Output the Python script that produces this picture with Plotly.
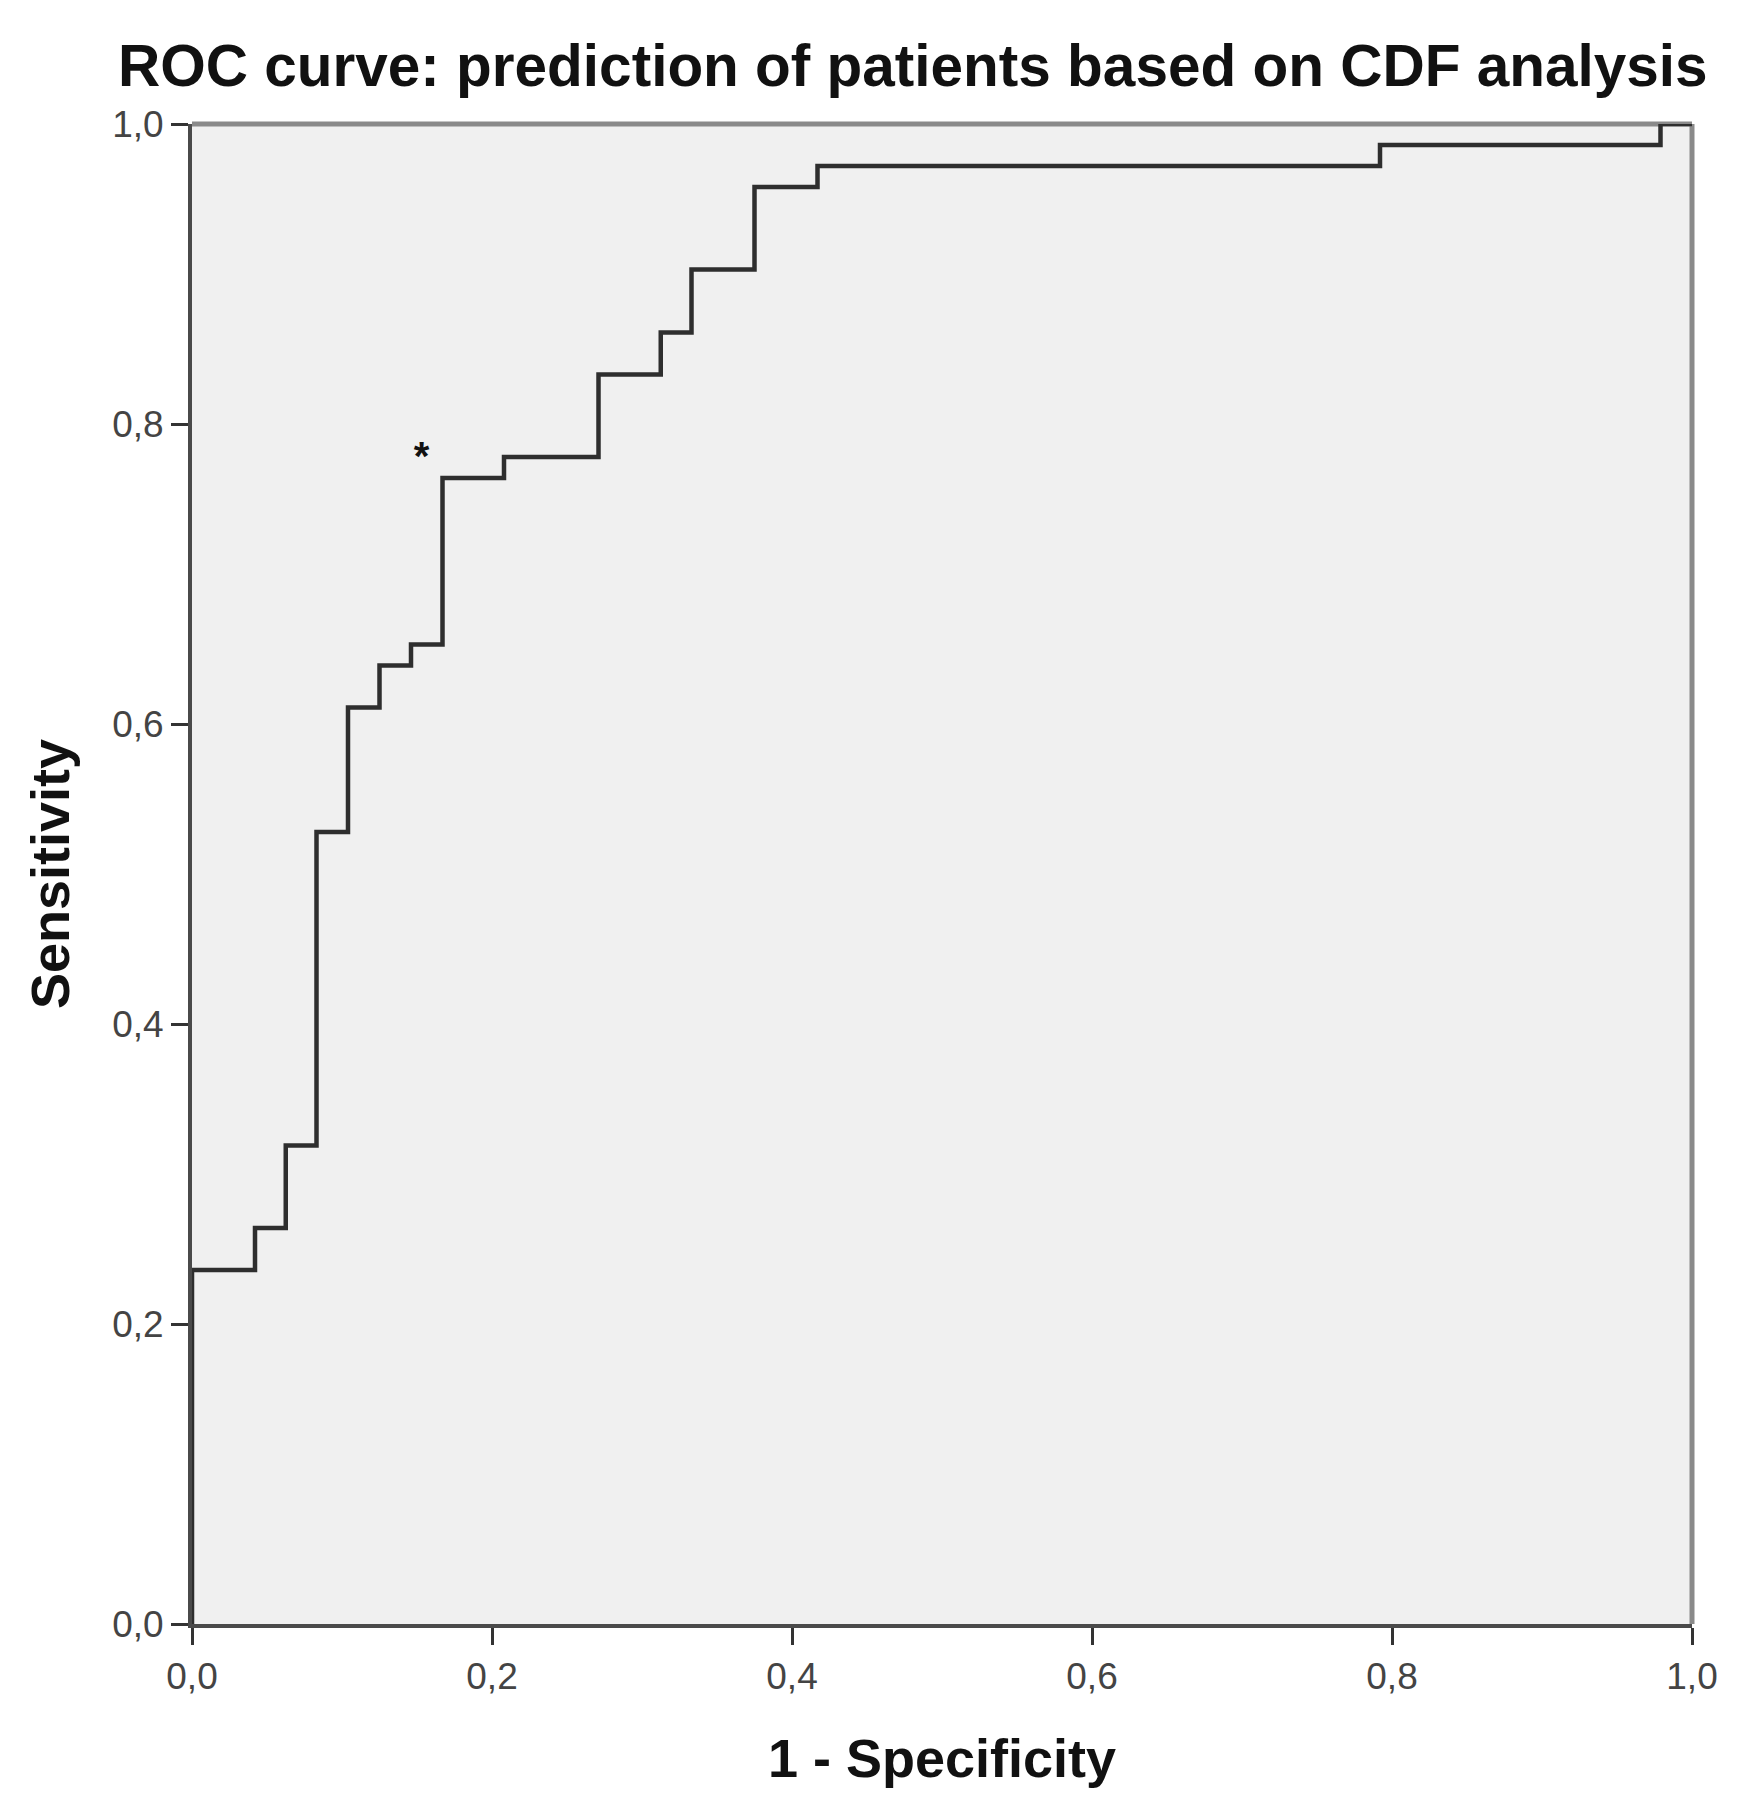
import plotly.graph_objects as go

# ROC curve points (1 - specificity, sensitivity)
fpr = [0.0, 0.0, 0.042, 0.0625, 0.083, 0.104, 0.125, 0.146, 0.167, 0.208,
       0.271, 0.3125, 0.333, 0.375, 0.417, 0.792, 0.979, 1.0]
tpr = [0.0, 0.236, 0.264, 0.319, 0.528, 0.611, 0.639, 0.653, 0.764, 0.778,
       0.833, 0.861, 0.903, 0.958, 0.972, 0.986, 1.0, 1.0]

# optimal cut-off marker (text anchor position)
star_x = [0.153]
star_y = [0.776]

tick_vals = [0.0, 0.2, 0.4, 0.6, 0.8, 1.0]

title_text = "ROC curve: prediction of patients based on CDF analysis"
x_title = "1 - Specificity"
y_title = "Sensitivity"

FONT = "Liberation Sans, Arial, sans-serif"

# page body has an 8px default margin, so the figure is sized to fit inside it
W, H = 1730, 1799

fig = go.Figure()
fig.add_trace(go.Scatter(
    x=fpr, y=tpr, mode="lines", line=dict(color="#2e2e2e", width=4.5, shape="hv"),
    showlegend=False, hoverinfo="skip", cliponaxis=False))

fig.add_trace(go.Scatter(
    x=star_x, y=star_y, mode="text", text=["<b>*</b>"],
    textfont=dict(family=FONT, size=40, color="#111111"),
    textposition="middle center", showlegend=False, hoverinfo="skip"))

# lighter top/right frame lines (beneath the curve)
fig.add_shape(type="line", xref="paper", yref="paper", x0=0, x1=1, y0=1, y1=1,
              line=dict(color="#8a8a8a", width=5), layer="between")
fig.add_shape(type="line", xref="paper", yref="paper", x0=1, x1=1, y0=0, y1=1,
              line=dict(color="#8a8a8a", width=5), layer="between")

fig.update_layout(
    width=W, height=H,
    margin=dict(l=184, r=46, t=116, b=183),
    paper_bgcolor="white", plot_bgcolor="#f0f0f0",
    separators=", ",
    title=dict(text="<b>" + title_text + "</b>", x=0.523, xanchor="center",
               y=1 - 58 / H, yanchor="middle",
               font=dict(family=FONT, size=58.5, color="#111111")),
    font=dict(family=FONT),
)

fig.update_xaxes(
    range=[0, 1], tickvals=tick_vals, tickformat=".1f",
    showgrid=False, zeroline=False,
    showline=True, linecolor="#4a4a4a", linewidth=4,
    ticks="outside", ticklen=17, tickwidth=3, tickcolor="#333333",
    tickfont=dict(family=FONT, size=37, color="#444444"),
    title=dict(text="<b>" + x_title + "</b>", standoff=44,
               font=dict(family=FONT, size=54, color="#111111")),
)
fig.update_yaxes(
    range=[0, 1], tickvals=tick_vals, tickformat=".1f",
    showgrid=False, zeroline=False,
    showline=True, linecolor="#4a4a4a", linewidth=4,
    ticks="outside", ticklen=17, tickwidth=3, tickcolor="#333333",
    tickfont=dict(family=FONT, size=37, color="#444444"),
    title=dict(text="<b>" + y_title + "</b>", standoff=26,
               font=dict(family=FONT, size=54, color="#111111")),
)

fig.write_html("out.html")
